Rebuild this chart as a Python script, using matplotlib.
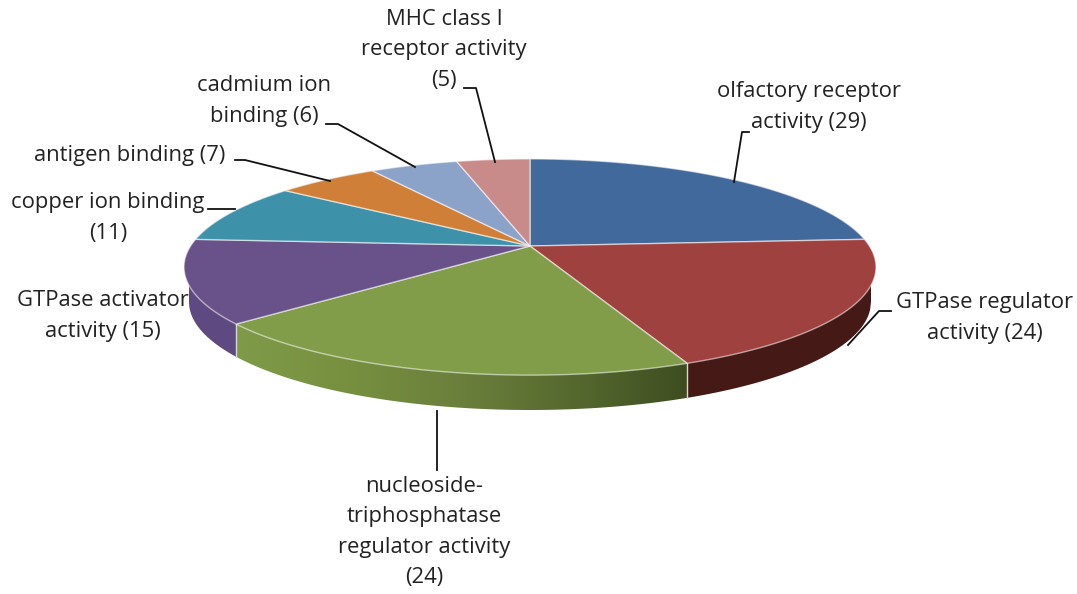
import numpy as np
import matplotlib
matplotlib.use("Agg")
import matplotlib.pyplot as plt
from matplotlib.colors import LinearSegmentedColormap
from matplotlib.patches import Polygon

categories = ["olfactory receptor activity", "GTPase regulator activity",
              "nucleoside-triphosphatase regulator activity", "GTPase activator activity",
              "copper ion binding", "antigen binding", "cadmium ion binding",
              "MHC class I receptor activity"]
values = [29, 24, 24, 15, 11, 7, 6, 5]
top_colors = ["#41699c", "#9f413e", "#819d4a", "#69528a", "#3d92a9", "#cf7f38", "#8ba2c9", "#c98a8a"]
wall_colors = {1: "#451a16", 3: "#5e4a80"}
green_wall = ["#7f9a48", "#76903f", "#6b7f3c", "#55692f", "#3e4d20"]
labels = [("olfactory receptor\nactivity (29)", 809, 107),
          ("GTPase regulator\nactivity (24)", 985, 318),
          ("nucleoside-\ntriphosphatase\nregulator activity\n(24)", 424, 532),
          ("GTPase activator\nactivity (15)", 103, 316),
          ("copper ion binding\n(11)", 108, 218),
          ("antigen binding (7)", 130, 155),
          ("cadmium ion\nbinding (6)", 264, 101),
          ("MHC class I\nreceptor activity\n(5)", 444, 50)]
leaders = [[(749, 132), (742, 132), (734, 182)],
           [(891, 311), (879, 311), (848, 345)],
           [(437, 411), (437, 470)],
           [(208, 209), (235, 209)],
           [(235, 160), (245, 160), (330, 181)],
           [(326, 124), (338, 124), (415, 167)],
           [(464, 88), (476, 88), (495, 162)]]

A, B, K = 339.4, 104.0, 0.1945
CX, CY, DEPTH = 530.0, 246.0, 35.0
WALL_A, WALL_B, WALL_CY = 341.0, 108.0, 267.0


def project(theta):
    u, v = np.cos(theta), np.sin(theta)
    w = 1 + K * v
    return CX + A * u / w, CY - B * v / w


def wall_polygon(xa, xb):
    x = np.linspace(xa, xb, 200)
    y = WALL_CY + DEPTH + WALL_B * np.sqrt(np.clip(1 - ((x - CX) / WALL_A) ** 2, 0, 1))
    return np.r_[[(xa, WALL_CY)], np.c_[x, y], [(xb, WALL_CY)]]


plt.rcParams["font.family"] = ["Open Sans", "DejaVu Sans"]
fig = plt.figure(figsize=(10.77, 5.94), dpi=100)
ax = fig.add_axes([0, 0, 1, 1])
ax.axis("off")

edges = np.cumsum([0] + values) / sum(values) * 2 * np.pi
starts = np.pi / 2 - edges[:-1]
ends = np.pi / 2 - edges[1:]

x_red_green = project(ends[1])[0]
x_green_purple = project(ends[2])[0]

# front wall pieces
ax.add_patch(Polygon(wall_polygon(x_red_green, CX + WALL_A), closed=True,
                     fc=wall_colors[1], ec="none", zorder=2))
ax.add_patch(Polygon(wall_polygon(CX - WALL_A, x_green_purple), closed=True,
                     fc=wall_colors[3], ec="none", zorder=2))
green_poly = Polygon(wall_polygon(x_green_purple, x_red_green), closed=True,
                     fc="none", ec="none", zorder=2)
ax.add_patch(green_poly)
grad = np.linspace(0, 1, 256).reshape(1, -1)
im = ax.imshow(grad, extent=(x_green_purple, x_red_green, 420, 260), aspect="auto",
               cmap=LinearSegmentedColormap.from_list("g", green_wall), zorder=2)
im.set_clip_path(green_poly)

# seams between wall pieces
for xs, c in ((x_red_green, "#d8d8c8"), (x_green_purple, "#d8d8d8")):
    yt = project(ends[1] if xs == x_red_green else ends[2])[1]
    yb = WALL_CY + DEPTH + WALL_B * np.sqrt(1 - ((xs - CX) / WALL_A) ** 2)
    ax.plot([xs, xs], [yt, yb], color=c, lw=1, zorder=3)

# top faces
for s, e, c in zip(starts, ends, top_colors):
    x, y = project(np.linspace(s, e, 120))
    ax.add_patch(Polygon(np.c_[np.r_[CX, x], np.r_[CY, y]], closed=True, fc=c,
                         ec=(1, 1, 1, 0.55), lw=1.0, zorder=4))

# leader lines
for pts in leaders:
    p = np.array(pts)
    ax.plot(p[:, 0], p[:, 1], color="#111111", lw=1.3, zorder=6)

# labels
for txt, x, y in labels:
    ax.text(x, y, txt, ha="center", va="center", fontsize=15.8, color="#222222",
            linespacing=1.57, zorder=7)

ax.set_xlim(0, 1077)
ax.set_ylim(594, 0)
fig.savefig("out.png", dpi=100)
